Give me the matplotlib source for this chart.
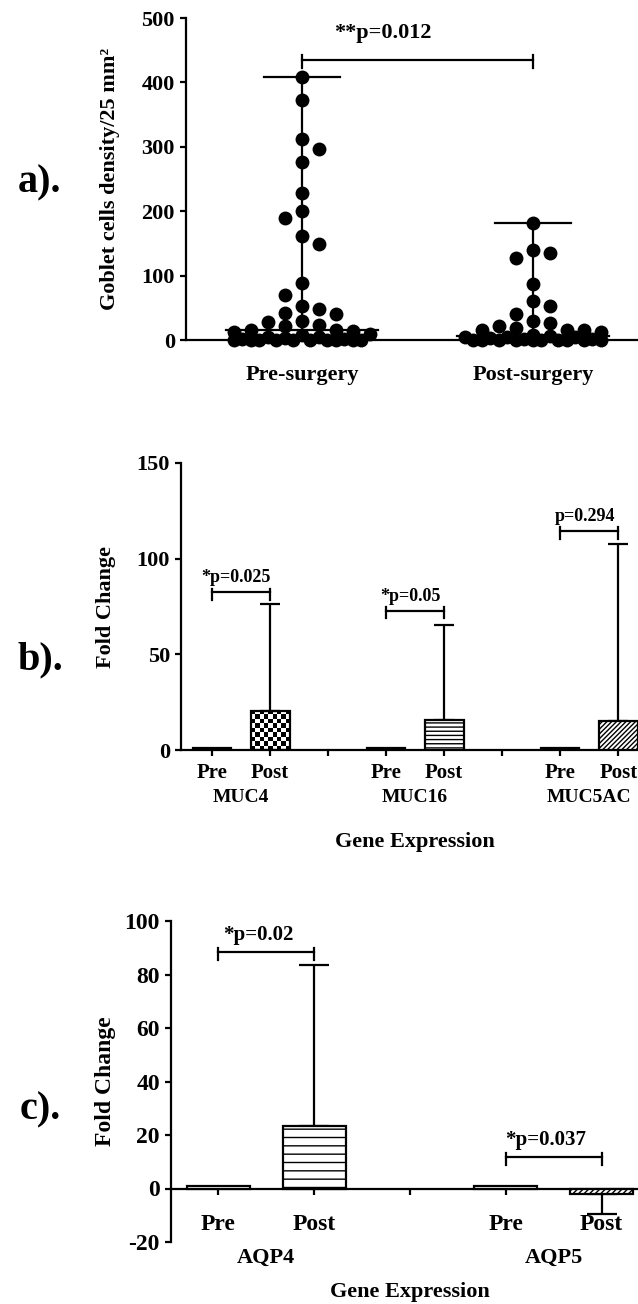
import numpy as np
import matplotlib
matplotlib.use("Agg")
from matplotlib import pyplot as plt

plt.rcParams["font.family"] = ["Liberation Serif", "DejaVu Serif"]
plt.rcParams["font.weight"] = "bold"
plt.rcParams["axes.labelweight"] = "bold"
plt.rcParams["axes.unicode_minus"] = False

# ---- data, panel a (goblet cell density) ----
groups_a = ["Pre-surgery", "Post-surgery"]
pre_density = [408, 373, 312, 296, 276, 228, 201, 190, 161, 149, 88, 70, 53, 48,
               42, 41, 30, 28, 23, 21, 16, 15, 14, 12, 10, 8, 5, 4, 3, 2, 1,
               0, 0, 0, 0, 0, 0, 0, 0, 0, 0]
post_density = [182, 140, 135, 127, 87, 61, 53, 41, 30, 27, 22, 18, 15, 15, 15, 12,
                7, 6, 5, 5, 4, 3, 2, 1, 0, 0, 0, 0, 0, 0, 0, 0, 0, 0]
p_a = "**p=0.012"

# ---- data, panel b (mucins) ----
muc_genes = ["MUC4", "MUC16", "MUC5AC"]
muc_pre = [1.0, 1.0, 1.0]
muc_post = [20.4, 15.7, 15.3]
muc_post_top = [76.3, 65.3, 107.8]
muc_p = ["*p=0.025", "*p=0.05", "p=0.294"]
muc_bracket = [82.4, 72.8, 114.5]

# ---- data, panel c (aquaporins) ----
aqp_genes = ["AQP4", "AQP5"]
aqp_pre = [1.0, 1.0]
aqp_post = [23.5, -1.9]
aqp_post_end = [83.5, -9.6]
aqp_p = ["*p=0.02", "*p=0.037"]
aqp_bracket = [88.4, 11.8]

LW = 1.6
W, H = 638, 1304


def rect(left, right, top, bottom):
    return [left / W, 1 - bottom / H, (right - left) / W, (bottom - top) / H]


def swarm_x(ax, center, values, d_px=13.0, step_px=17.0, nmax=4):
    # prism-like column scatter: whole-step columns first, half-steps when crowded
    vals = np.asarray(values, dtype=float)
    pts = ax.transData.transform(np.column_stack([np.full(len(vals), center), vals]))
    cx = pts[0, 0]
    placed = []
    offs = np.zeros(len(vals))
    sign = 1
    half = []
    for k in range(1, nmax + 1):
        half += [(k - 0.5) * step_px, -(k - 0.5) * step_px]

    def mind(off, y):
        if not placed:
            return np.inf
        return min(np.hypot(cx + off - px, y - py) for px, py in placed)

    for i in np.argsort(-vals, kind="stable"):
        y = pts[i, 1]
        full = [0.0]
        for k in range(1, nmax + 1):
            full += [sign * k * step_px, -sign * k * step_px]
        chosen = None
        for off in full:
            if mind(off, y) >= d_px:
                chosen = off
                break
        if chosen is None:
            cands = full + half
            chosen = cands[int(np.argmax([mind(o, y) for o in cands]))]
        if chosen != 0:
            sign = -sign
        placed.append((cx + chosen, y))
        offs[i] = chosen
    back = ax.transData.inverted().transform(np.column_stack([cx + offs, pts[:, 1]]))
    return back[:, 0]


def style(ax):
    for s in ["top", "right"]:
        ax.spines[s].set_visible(False)
    for s in ["left", "bottom"]:
        ax.spines[s].set_linewidth(LW)
    ax.tick_params(width=LW, length=4.5, direction="out")


def bracket(ax, x1, x2, y, up, down, label, dy, size, shift):
    ax.plot([x1, x2], [y, y], color="k", lw=LW, clip_on=False)
    ax.plot([x1, x1], [y + up, y - down], color="k", lw=LW, clip_on=False)
    ax.plot([x2, x2], [y + up, y - down], color="k", lw=LW, clip_on=False)
    ax.text((x1 + x2) / 2 + shift, y + dy, label, ha="center", va="center",
            fontsize=size, fontweight="bold")


fig = plt.figure(figsize=(W / 100, H / 100), dpi=100)

# ================= panel a =================
ax = fig.add_axes(rect(186, 638, 18, 340))
ax.set_xlim(0.498, 2.455)
ax.set_ylim(0, 500)
style(ax)
ax.set_yticks(range(0, 501, 100))
ax.set_xticks([1, 2])
ax.set_xticklabels(groups_a)
ax.tick_params(axis="x", length=0, pad=18, labelsize=16)
ax.tick_params(axis="y", labelsize=16)
ax.set_ylabel("Goblet cells density/25 mm²", fontsize=16)
ax.yaxis.set_label_coords(-0.145, 0.5)

for xc, vals in [(1, pre_density), (2, post_density)]:
    xs = swarm_x(ax, xc, vals)
    ax.scatter(xs, vals, s=100, color="k", zorder=3, clip_on=False, linewidths=0)
    med = np.median(vals)
    top = max(vals)
    ax.plot([xc, xc], [min(vals), top], color="k", lw=LW, zorder=4)
    ax.plot([xc - 0.165, xc + 0.165], [top, top], color="k", lw=LW, zorder=4)
    ax.plot([xc - 0.33, xc + 0.33], [med, med], color="k", lw=LW, zorder=4)

bracket(ax, 1, 2, 435, 7, 13, p_a, 42, 16, -0.15)

# ================= panel b =================
bx = fig.add_axes(rect(181, 638, 463, 750))
bx.set_xlim(0.465, 8.34)
bx.set_ylim(0, 150)
style(bx)
bx.set_yticks([0, 50, 100, 150])
bx.tick_params(axis="y", labelsize=16)
pre_x = [3 * i + 1 for i in range(len(muc_genes))]
post_x = [3 * i + 2 for i in range(len(muc_genes))]
bx.bar(pre_x, muc_pre, width=0.65, color="white", edgecolor="k", lw=LW, zorder=3)
bars = bx.bar(post_x, muc_post, width=0.67, color="white", edgecolor="k", lw=LW, zorder=3)
bars[1].set_hatch("----")
bars[2].set_hatch("///////")
bars[0].set_facecolor("none")
# checkerboard fill for the first post bar
p = bars[0]
bb = p.get_window_extent()
nx = max(int(bb.width / 4.2), 2)
ny = max(int(bb.height / 4.2), 2)
checker = (np.add.outer(np.arange(ny), np.arange(nx)) % 2).astype(float)
im = bx.imshow(checker, cmap="gray", extent=[p.get_x(), p.get_x() + p.get_width(), 0, p.get_height()],
               aspect="auto", interpolation="nearest", zorder=2)
im.set_clip_path(p)
bx.set_xlim(0.465, 8.34)
bx.set_ylim(0, 150)
err_b = np.array(muc_post_top) - np.array(muc_post)
bx.errorbar(post_x, muc_post, yerr=[np.zeros(3), err_b], fmt="none", ecolor="k",
            elinewidth=LW, capsize=7, capthick=LW, zorder=2)
sep_b = [3 * i for i in range(1, len(muc_genes))]
ticks_b = sorted(pre_x + post_x + sep_b)
bx.set_xticks(ticks_b)
bx.set_xticklabels(["Pre" if t in pre_x else "Post" if t in post_x else "" for t in ticks_b])
bx.tick_params(axis="x", labelsize=15, pad=5)
for i, g in enumerate(muc_genes):
    bx.text(pre_x[i] + 0.5, -0.167, g, transform=bx.get_xaxis_transform(), ha="center",
            va="center", fontsize=14)
    bracket(bx, pre_x[i], post_x[i], muc_bracket[i], 2, 4, muc_p[i], 7.5, 13, -0.08)
bx.text(4.5, -0.32, "Gene Expression", transform=bx.get_xaxis_transform(), ha="center",
        va="center", fontsize=16)
bx.set_ylabel("Fold Change", fontsize=16)
bx.yaxis.set_label_coords(-0.142, 0.5)

# ================= panel c =================
cx = fig.add_axes(rect(171, 638, 921, 1242))
cx.set_xlim(0.505, 5.38)
cx.set_ylim(-20, 100)
style(cx)
cx.spines["bottom"].set_position(("data", 0))
cx.set_yticks(range(-20, 101, 20))
cx.tick_params(axis="y", labelsize=17)
pre_c = [3 * i + 1 for i in range(len(aqp_genes))]
post_c = [3 * i + 2 for i in range(len(aqp_genes))]
cx.bar(pre_c, aqp_pre, width=0.66, color="white", edgecolor="k", lw=LW, zorder=3)
cbars = cx.bar(post_c, aqp_post, width=0.66, color="white", edgecolor="k", lw=LW, zorder=3)
cbars[0].set_hatch("--")
cbars[1].set_hatch("//////")
lo = [0 if v > 0 else v - e for v, e in zip(aqp_post, aqp_post_end)]
hi = [e - v if v > 0 else 0 for v, e in zip(aqp_post, aqp_post_end)]
cx.errorbar(post_c, aqp_post, yerr=[lo, hi], fmt="none", ecolor="k", elinewidth=LW,
            capsize=11, capthick=LW, zorder=2)
ticks_c = sorted(pre_c + post_c + [3])
cx.set_xticks(ticks_c)
cx.set_xticklabels(["Pre" if t in pre_c else "Post" if t in post_c else "" for t in ticks_c])
cx.tick_params(axis="x", labelsize=17, pad=14)
for i, g in enumerate(aqp_genes):
    cx.text(pre_c[i] + 0.5, -0.05, g, transform=cx.get_xaxis_transform(), ha="center",
            va="center", fontsize=16)
    bracket(cx, pre_c[i], post_c[i], aqp_bracket[i], 1.5, 3, aqp_p[i], 6.5, 15, -0.08)
cx.text(3, -0.156, "Gene Expression", transform=cx.get_xaxis_transform(), ha="center",
        va="center", fontsize=16)
cx.set_ylabel("Fold Change", fontsize=17)
cx.yaxis.set_label_coords(-0.118, 0.5)

# panel letters
for lab, ypx in [("a).", 183), ("b).", 660), ("c).", 1110)]:
    fig.text(40 / W, 1 - ypx / H, lab, ha="center", va="center", fontsize=29,
             fontweight="bold")

fig.savefig("out.png", dpi=100)
